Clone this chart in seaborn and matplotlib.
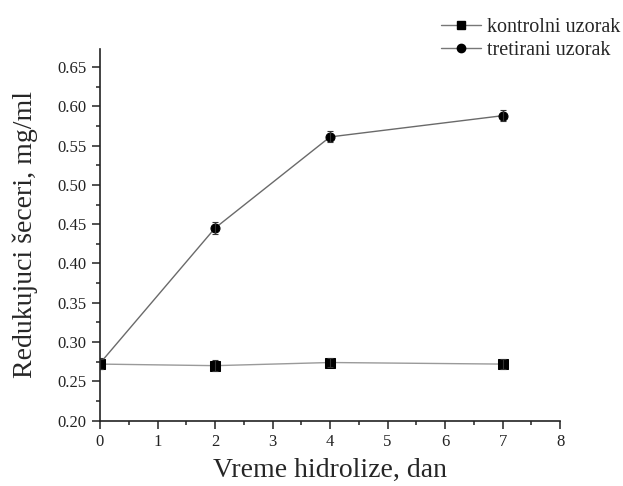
import matplotlib
matplotlib.use("Agg")
import matplotlib.pyplot as plt
import seaborn as sns
import pandas as pd
from matplotlib.ticker import MultipleLocator, FormatStrFormatter
from matplotlib.lines import Line2D

days = [0, 2, 4, 7]
kontrolni = [0.272, 0.270, 0.274, 0.272]
kontrolni_err = [0.006, 0.007, 0.006, 0.006]
tretirani = [0.273, 0.445, 0.561, 0.588]
tretirani_err = [0.007, 0.008, 0.007, 0.007]
labels = ["kontrolni uzorak", "tretirani uzorak"]
yticks = [0.20, 0.25, 0.30, 0.35, 0.40, 0.45, 0.50, 0.55, 0.60, 0.65]

sns.set_style("ticks")
plt.rcParams['font.family'] = ['Liberation Serif', 'DejaVu Serif']

df = pd.DataFrame({
    "dan": days * 2,
    "val": kontrolni + tretirani,
    "series": [labels[0]] * 4 + [labels[1]] * 4,
})

colors = {labels[0]: "#9a9a9a", labels[1]: "#6a6a6a"}

fig = plt.figure(figsize=(6.23, 4.86), dpi=100)
ax = fig.add_axes([0.1605, 0.1344, 0.7385, 0.7642])

sns.lineplot(data=df, x="dan", y="val", hue="series", style="series",
             markers={labels[0]: "s", labels[1]: "o"}, dashes=False,
             palette=colors, linewidth=1.0, markersize=6.5,
             markeredgecolor="black", ax=ax, legend=False)
for line in ax.lines:
    line.set_markerfacecolor("black")
for v, e in [(kontrolni, kontrolni_err), (tretirani, tretirani_err)]:
    ax.errorbar(days, v, yerr=e, fmt="none", ecolor="#333333",
                elinewidth=0.8, capsize=2.5, capthick=0.8)

ax.set_xlim(0, 8)
ax.set_ylim(0.2, 0.6725)
ax.xaxis.set_major_locator(MultipleLocator(1))
ax.xaxis.set_minor_locator(MultipleLocator(0.5))
ax.set_yticks(yticks)
ax.yaxis.set_minor_locator(MultipleLocator(0.025))
ax.yaxis.set_major_formatter(FormatStrFormatter("%.2f"))
ax.tick_params(which="major", direction="out", length=5.5, width=1.1,
               labelsize=12, colors="#222222", pad=4)
ax.tick_params(which="minor", direction="out", length=3, width=1.1, colors="#222222")
for sp in ["top", "right"]:
    ax.spines[sp].set_visible(False)
for sp in ["left", "bottom"]:
    ax.spines[sp].set_linewidth(1.2)
    ax.spines[sp].set_color("#222222")

ax.set_xlabel("Vreme hidrolize, dan", fontsize=20, labelpad=6)
ax.set_ylabel("Redukujuci šeceri, mg/ml", fontsize=20, labelpad=14)

handles = [
    Line2D([], [], color="#777777", marker="s", markerfacecolor="black",
           markeredgecolor="black", markersize=6, linewidth=1.0),
    Line2D([], [], color="#777777", marker="o", markerfacecolor="black",
           markeredgecolor="black", markersize=6, linewidth=1.0),
]
fig.legend(handles, labels, loc="upper right", bbox_to_anchor=(1.025, 1.0),
           frameon=False, fontsize=14.5, handlelength=2.0, handletextpad=0.3,
           labelspacing=0.2, borderpad=0.4)

fig.savefig("out.png", dpi=100)
